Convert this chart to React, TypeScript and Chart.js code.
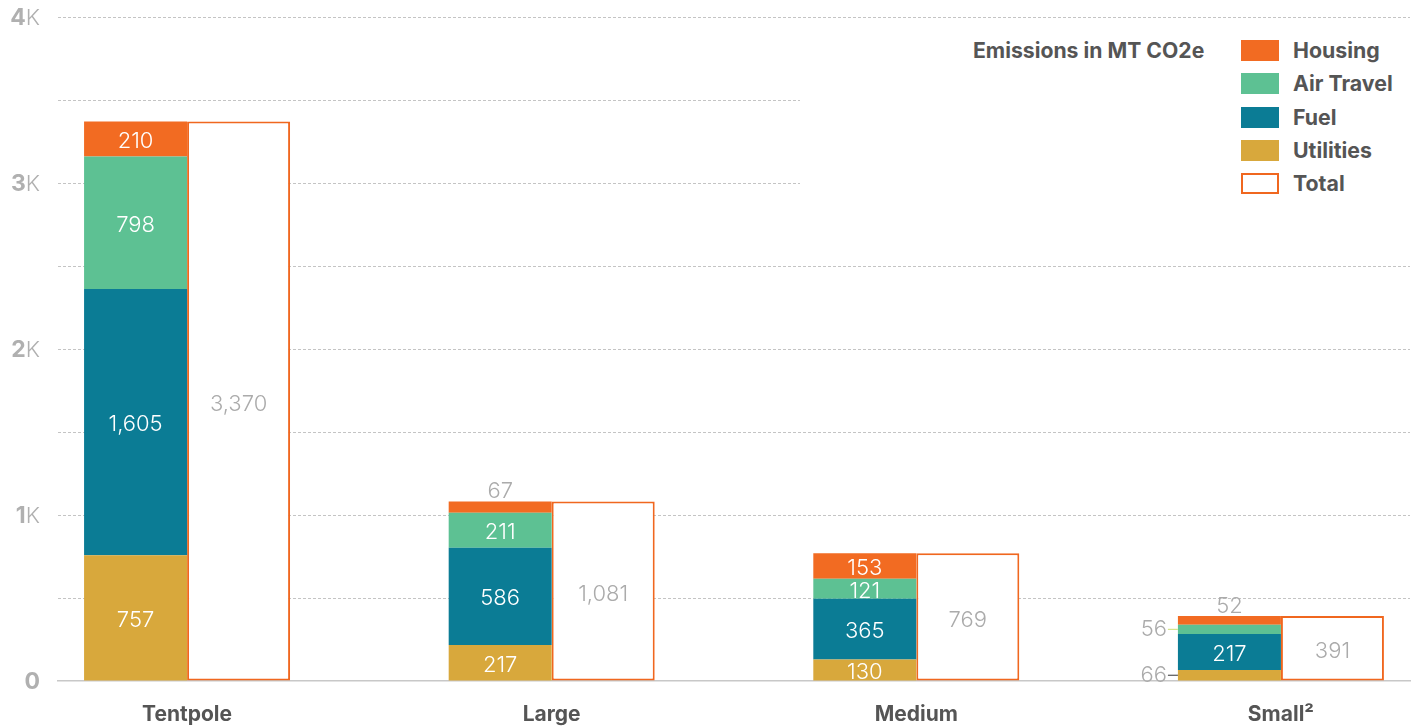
import React, { useEffect, useRef } from 'react';
import { Chart, registerables } from 'chart.js';

Chart.register(...registerables);

// ---- data ----
const categories = ['Tentpole', 'Large', 'Medium', 'Small²'];
const utilities = [757, 217, 130, 66];
const fuel = [1605, 586, 365, 217];
const airTravel = [798, 211, 121, 56];
const housing = [210, 67, 153, 52];
const totals = [3370, 1081, 769, 391];
const yTickValues = [0, 1000, 2000, 3000, 4000];
const legendTitle = 'Emissions in MT CO2e';

// ---- styles ----
const FONT = 'Inter, "Noto Sans", sans-serif';
const C_HOUSING = '#f26b22';
const C_AIR = '#5dc193';
const C_FUEL = '#0b7c95';
const C_UTIL = '#d8a83c';
const C_TOTAL_BORDER = '#f0671f';
const GRAY_TEXT = '#ababab';
const DARK_TEXT = '#555555';

const toPoints = (arr: number[]) => arr.map((v, i) => ({ x: i, y: v }));

const segLabels = {
  id: 'segLabels',
  afterDatasetsDraw(chart: any) {
    const ctx = chart.ctx as CanvasRenderingContext2D;
    ctx.save();
    ctx.font = `300 22px ${FONT}`;
    ctx.textBaseline = 'middle';
    chart.data.datasets.forEach((ds: any, di: number) => {
      const meta = chart.getDatasetMeta(di);
      meta.data.forEach((el: any, i: number) => {
        const { x, y, base, width } = el.getProps(['x', 'y', 'base', 'width'], true);
        const v = ds.data[i].y as number;
        const text = v.toLocaleString('en-US');
        const h = Math.abs(base - y);
        const mid = (y + base) / 2;
        if (ds.stack === 'total') {
          ctx.fillStyle = GRAY_TEXT;
          ctx.textAlign = 'center';
          ctx.fillText(text, x, mid + 3);
        } else if (h >= 15) {
          ctx.fillStyle = '#ffffff';
          ctx.textAlign = 'center';
          ctx.fillText(text, x, mid + 2.5);
        } else if (ds.label === 'Housing') {
          ctx.fillStyle = GRAY_TEXT;
          ctx.textAlign = 'center';
          ctx.fillText(text, x, y - 10);
        } else {
          const left = x - width / 2;
          ctx.fillStyle = GRAY_TEXT;
          ctx.textAlign = 'right';
          ctx.fillText(text, left - 11, mid);
          ctx.strokeStyle = ds.label === 'Air Travel' ? '#d6e48c' : '#555555';
          ctx.lineWidth = 1.2;
          ctx.beginPath();
          ctx.moveTo(left - 10, mid);
          ctx.lineTo(left, mid);
          ctx.stroke();
        }
      });
    });
    ctx.restore();
  },
};

const yTickDrawer = {
  id: 'yTickDrawer',
  afterDraw(chart: any) {
    const ctx = chart.ctx as CanvasRenderingContext2D;
    const scale = chart.scales.y;
    ctx.save();
    ctx.textBaseline = 'middle';
    ctx.fillStyle = '#b0b0b0';
    yTickValues.forEach((v) => {
      const py = scale.getPixelForValue(v) + 1;
      const num = String(v / 1000);
      const suffix = v === 0 ? '' : 'K';
      const right = 40;
      ctx.font = `300 22px ${FONT}`;
      const sw = ctx.measureText(suffix).width;
      ctx.textAlign = 'right';
      if (suffix) ctx.fillText(suffix, right, py);
      ctx.font = `700 23px ${FONT}`;
      ctx.fillText(num, right - sw, py);
    });
    ctx.restore();
  },
};

export default function App() {
  const ref = useRef<HTMLCanvasElement>(null);

  useEffect(() => {
    if (!ref.current) return;
    const chart = new Chart(ref.current, {
      type: 'bar',
      data: {
        datasets: [
          { label: 'Utilities', data: toPoints(utilities), backgroundColor: C_UTIL, stack: 'parts' },
          { label: 'Fuel', data: toPoints(fuel), backgroundColor: C_FUEL, stack: 'parts' },
          { label: 'Air Travel', data: toPoints(airTravel), backgroundColor: C_AIR, stack: 'parts' },
          { label: 'Housing', data: toPoints(housing), backgroundColor: C_HOUSING, stack: 'parts' },
          {
            label: 'Total',
            data: toPoints(totals),
            backgroundColor: '#ffffff',
            borderColor: C_TOTAL_BORDER,
            borderWidth: 2,
            borderSkipped: false,
            stack: 'total',
          },
        ] as any,
      },
      options: {
        animation: false,
        responsive: false,
        devicePixelRatio: window.devicePixelRatio || 1,
        layout: { padding: { top: 17, right: 5, left: 0, bottom: 0 } },
        datasets: { bar: { categoryPercentage: 0.565, barPercentage: 1 } } as any,
        plugins: {
          legend: { display: false },
          tooltip: { enabled: false },
        },
        scales: {
          x: {
            type: 'linear',
            stacked: true,
            offset: false,
            min: -0.354,
            max: 3.354,
            afterBuildTicks: (s: any) => {
              s.ticks = categories.map((_, i) => ({ value: i }));
            },
            afterFit: (s: any) => {
              s.height = 45;
            },
            grid: { display: false, drawTicks: false, offset: false },
            border: { display: true, color: '#c8c8c8', width: 1.5 },
            ticks: {
              padding: 21,
              color: DARK_TEXT,
              font: { family: FONT, size: 21, weight: 'bold' },
              callback: (v: any) => categories[v as number] ?? '',
              maxRotation: 0,
              autoSkip: false,
            },
          },
          y: {
            stacked: true,
            min: 0,
            max: 4000,
            afterFit: (s: any) => {
              s.width = 58;
            },
            grid: {
              drawTicks: false,
              color: (c: any) => (c.tick && c.tick.value === 0 ? 'rgba(0,0,0,0)' : '#c4c4c4'),
              lineWidth: 1,
            },
            border: { display: false, dash: [3, 2] },
            ticks: {
              stepSize: 500,
              color: 'rgba(0,0,0,0)',
              font: { family: FONT, size: 22 },
              callback: () => '',
            },
          },
        },
      } as any,
      plugins: [segLabels, yTickDrawer],
    });
    return () => chart.destroy();
  }, []);

  const legendItems = [
    { label: 'Housing', fill: C_HOUSING, border: C_HOUSING },
    { label: 'Air Travel', fill: C_AIR, border: C_AIR },
    { label: 'Fuel', fill: C_FUEL, border: C_FUEL },
    { label: 'Utilities', fill: C_UTIL, border: C_UTIL },
    { label: 'Total', fill: '#ffffff', border: C_TOTAL_BORDER },
  ];

  return (
    <div style={{ position: 'fixed', left: 0, top: 0, width: 1415, height: 726, background: '#ffffff' }}>
      <canvas ref={ref} width={1415} height={726} style={{ display: 'block', width: 1415, height: 726 }} />
      <div
        style={{
          position: 'absolute',
          left: 800,
          top: 28,
          width: 615,
          height: 172,
          background: '#ffffff',
          fontFamily: FONT,
          fontWeight: 700,
          color: DARK_TEXT,
        }}
      >
        <div
          style={{
            position: 'absolute',
            left: 173,
            top: 9,
            height: 26,
            lineHeight: '26px',
            fontSize: 21.2,
            whiteSpace: 'nowrap',
          }}
        >
          {legendTitle}
        </div>
        {legendItems.map((it, i) => (
          <div key={it.label} style={{ position: 'absolute', left: 441, top: 12 + i * 33.3, height: 21 }}>
            <div
              style={{
                position: 'absolute',
                left: 0,
                top: 0,
                width: 38,
                height: 21,
                boxSizing: 'border-box',
                background: it.fill,
                border: `2px solid ${it.border}`,
              }}
            />
            <div
              style={{
                position: 'absolute',
                left: 52,
                top: -3,
                lineHeight: '27px',
                fontSize: 21.3,
                whiteSpace: 'nowrap',
              }}
            >
              {it.label}
            </div>
          </div>
        ))}
      </div>
    </div>
  );
}
